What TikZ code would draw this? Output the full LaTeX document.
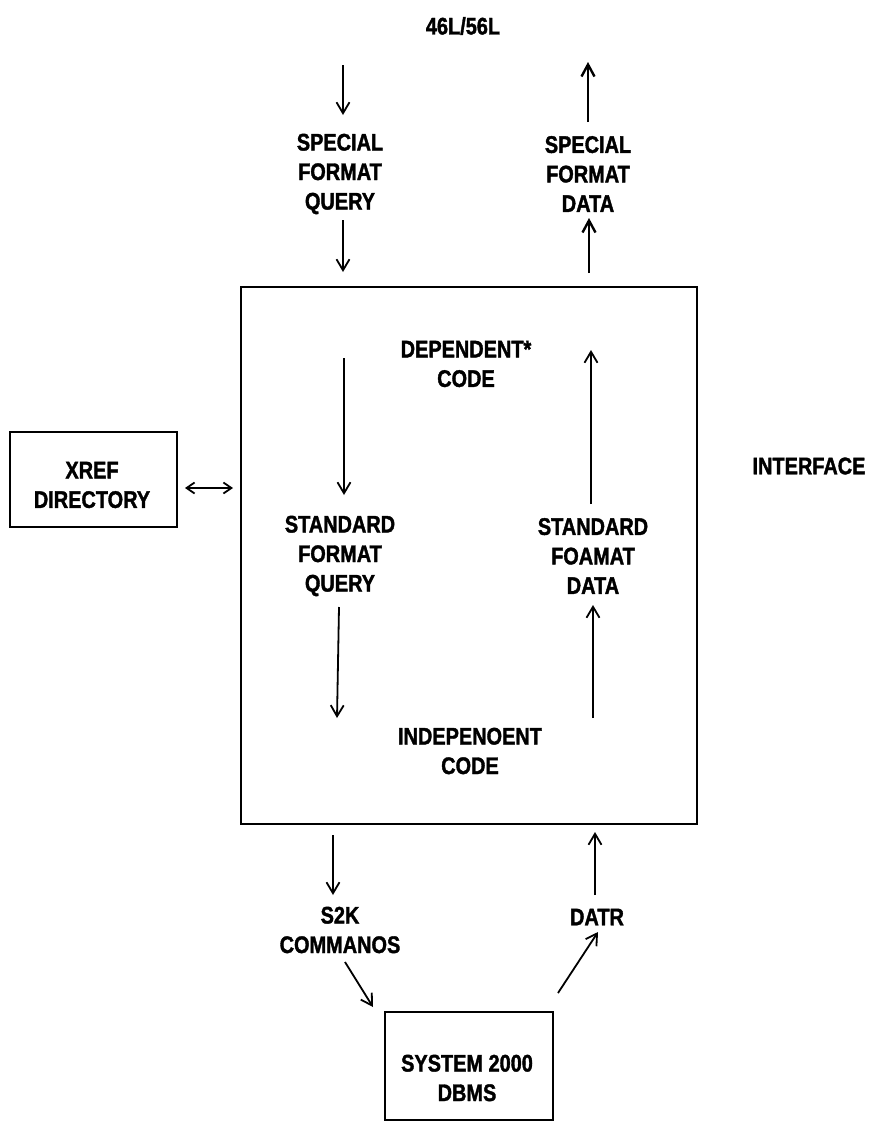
\documentclass[tikz,border=0pt]{standalone}
\usepackage{fontspec}
\setmainfont[FakeStretch=0.83, BoldFeatures={FakeBold=1.5}]{Liberation Sans}
\usetikzlibrary{arrows.meta}
\begin{document}
\begin{tikzpicture}[x=1pt,y=-1pt,
  lbl/.style={font=\bfseries\fontsize{24}{29.5}\selectfont, align=center, inner sep=0pt},
  boxline/.style={draw, line width=2.2pt},
  arr/.style={line width=1.8pt, -{Straight Barb[length=11pt,width=13pt,line width=1.8pt]}},
  thickarr/.style={line width=2.8pt, -{Straight Barb[length=12pt,width=13pt,line width=2.4pt]}},
  darr/.style={line width=1.8pt, {Straight Barb[length=8pt,width=11pt,line width=1.8pt]}-{Straight Barb[length=8pt,width=11pt,line width=1.8pt]}}
]
\useasboundingbox (0,0) rectangle (872,1122);

% texts
\node[lbl] (top) at (463,26) {46L/56L};
\node[lbl] (sfq) at (340,174) {SPECIAL\\FORMAT\\QUERY};
\node[lbl] (sfd) at (588,174) {SPECIAL\\FORMAT\\DATA};
\node[lbl] (dep) at (466,364) {DEPENDENT*\\CODE};
\node[lbl] (stq) at (340,556) {STANDARD\\FORMAT\\QUERY};
\node[lbl] (std) at (593,556) {STANDARD\\FOAMAT\\DATA};
\node[lbl] (ind) at (470,751) {INDEPENOENT\\CODE};
\node[lbl] (s2k) at (340,930) {S2K\\COMMANOS};
\node[lbl] (data) at (597,917) {DATR};
\node[lbl] (sys) at (467,1078) {SYSTEM 2000\\DBMS};
\node[lbl] (xreft) at (92,485) {XREF\\DIRECTORY};
\node[lbl] (intf) at (809,466) {INTERFACE};

% boxes
\node[boxline, minimum width=456pt, minimum height=537pt, inner sep=0pt] (main) at (469,555.5) {};
\node[boxline, minimum width=167pt, minimum height=95pt, inner sep=0pt] (xref) at (93.5,479.5) {};
\node[boxline, minimum width=168pt, minimum height=108pt, inner sep=0pt] (sysbox) at (469,1066) {};

% arrow end points
\coordinate (a1s) at (343,65);  \coordinate (a1e) at (343,115);
\coordinate (a2s) at (343,220); \coordinate (a2e) at (343,272);
\coordinate (b1s) at (588,122); \coordinate (b1e) at (588,62);
\coordinate (b2s) at (589,273); \coordinate (b2e) at (589,218);
\coordinate (c1s) at (344,358); \coordinate (c1e) at (344,495);
\coordinate (c2s) at (339,607); \coordinate (c2e) at (337,718);
\coordinate (d1s) at (591,504); \coordinate (d1e) at (591,350);
\coordinate (d2s) at (593,718); \coordinate (d2e) at (593,605);
\coordinate (e1s) at (333,835); \coordinate (e1e) at (333,895);
\coordinate (e2s) at (345,962); \coordinate (e2e) at (373,1007);
\coordinate (f1s) at (595,895); \coordinate (f1e) at (595,832);
\coordinate (f2s) at (558,993); \coordinate (f2e) at (598,932);
\coordinate (g1) at (185,488); \coordinate (g2) at (233,488);

\draw[arr] (a1s) -- (a1e);
\draw[arr] (a2s) -- (a2e);
\draw[thickarr] (b1s) -- (b1e);
\draw[thickarr] (b2s) -- (b2e);
\draw[arr] (c1s) -- (c1e);
\draw[arr] (c2s) -- (c2e);
\draw[arr] (d1s) -- (d1e);
\draw[arr] (d2s) -- (d2e);
\draw[arr] (e1s) -- (e1e);
\draw[arr] (e2s) -- (e2e);
\draw[arr] (f1s) -- (f1e);
\draw[arr] (f2s) -- (f2e);
\draw[darr] (g1) -- (g2);
\end{tikzpicture}
\end{document}
